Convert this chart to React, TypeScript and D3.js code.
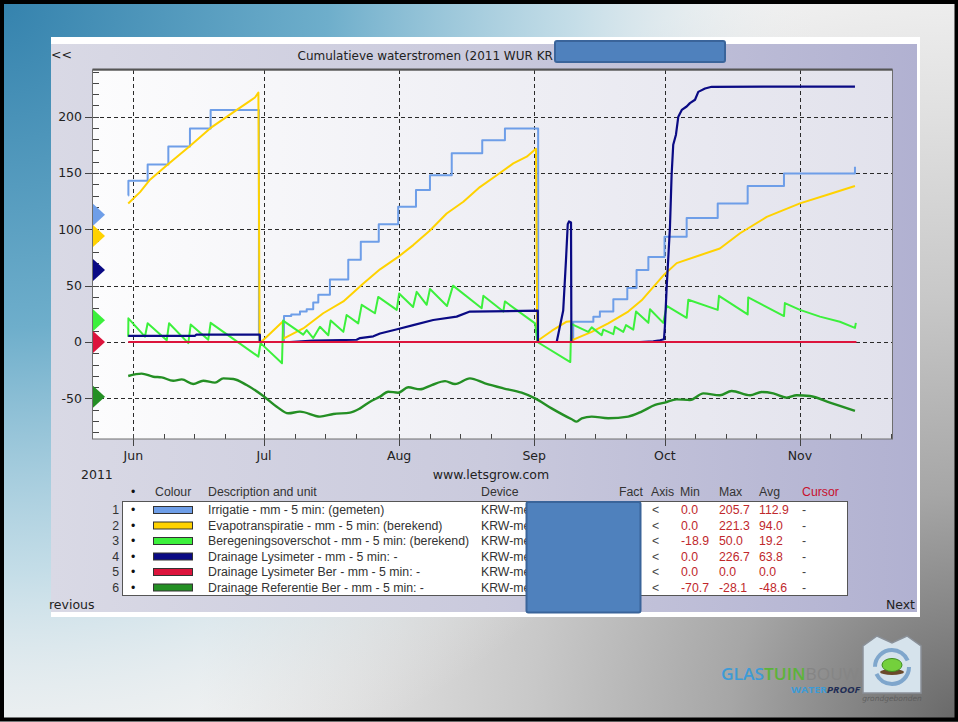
import React, { useEffect, useRef } from 'react';
import * as d3 from 'd3';

type Point = [string, number];

// cumulative flows in mm, ["MM-DD HH", value] (2011)
const irrigatie: Point[] = [
  ['05-30 20', 130], ['05-30 21', 143], ['06-04 07', 157.5], ['06-09 01', 173.5],
  ['06-14 00', 189.5], ['06-18 18', 206], ['06-29 20', 0], ['07-05 14', 23],
  ['07-07 06', 24.5], ['07-09 06', 27], ['07-10 19', 29], ['07-12 07', 35],
  ['07-13 11', 42], ['07-16 03', 55.5], ['07-20 08', 73], ['07-23 05', 89],
  ['07-27 08', 104.5], ['07-31 19', 120], ['08-04 21', 135], ['08-08 02', 148],
  ['08-13 02', 167.5], ['08-20 02', 179], ['08-25 07', 189.5], ['09-01 22', 0],
  ['09-09 23', 18], ['09-14 14', 22.5], ['09-16 02', 27], ['09-19 04', 38],
  ['09-22 09', 48], ['09-24 12', 64], ['09-27 05', 75.5], ['09-30 22', 93.5],
  ['10-06 00', 110], ['10-13 03', 123], ['10-20 00', 138.5], ['10-28 08', 149.5],
  ['11-13 15', 155.5],
];

const evapotranspiratie: Point[] = [
  ['05-30 20', 123], ['06-02 13', 133], ['06-04 20', 144], ['06-09 01', 158],
  ['06-14 00', 174], ['06-18 18', 190], ['06-24 18', 206], ['06-27 19', 214],
  ['06-28 22', 217], ['06-29 17', 221.3], ['06-30 00', 0], ['06-30 08', 0],
  ['07-02 10', 7.5], ['07-05 06', 18], ['07-05 11', 3], ['07-10 00', 12],
  ['07-14 14', 25.5], ['07-19 05', 36], ['07-23 19', 52], ['07-27 15', 64.5],
  ['07-31 19', 75.5], ['08-04 06', 86], ['08-08 02', 99], ['08-11 22', 114],
  ['08-15 18', 124.5], ['08-19 13', 137.5], ['08-23 10', 148], ['08-27 05', 158.5],
  ['08-30 07', 164.5], ['09-01 10', 171.5], ['09-01 17', 0], ['09-01 23', 1.5],
  ['09-05 02', 10], ['09-08 11', 18], ['09-09 11', 18.5], ['09-09 14', 1.5],
  ['09-14 05', 9], ['09-18 00', 16.5], ['09-22 14', 27], ['09-25 16', 37],
  ['09-30 21', 60], ['10-03 17', 70], ['10-09 01', 77], ['10-13 15', 83],
  ['10-18 06', 96.5], ['10-24 09', 111], ['11-01 00', 123], ['11-07 03', 130.5],
  ['11-13 15', 138.5],
];

const beregeningsoverschot: Point[] = [
  ['05-30 20', 4.7], ['05-30 21', 21], ['06-03 16', 4.7], ['06-04 07', 16.6],
  ['06-08 16', 1.5], ['06-09 05', 16.6], ['06-13 15', -1], ['06-14 04', 15.5],
  ['06-18 05', 2], ['06-18 18', 17], ['06-29 17', -13], ['06-30 05', -1],
  ['07-05 03', -18.9], ['07-05 09', 19], ['07-10 00', 6.5], ['07-10 19', 10.5],
  ['07-12 07', 3.5], ['07-13 20', 13.5], ['07-15 18', 6], ['07-16 07', 19],
  ['07-19 05', 9], ['07-19 23', 24], ['07-22 15', 16.5], ['07-23 10', 33],
  ['07-26 11', 25.5], ['07-27 05', 40], ['07-31 11', 28.5], ['08-01 00', 43],
  ['08-04 05', 31], ['08-05 01', 44.5], ['08-07 08', 33], ['08-08 02', 47],
  ['08-12 00', 32], ['08-13 09', 50], ['08-19 23', 30], ['08-20 08', 41],
  ['08-24 22', 27], ['08-25 07', 36], ['09-01 05', 16.5], ['09-01 18', 0],
  ['09-09 07', -17.8], ['09-09 12', 16], ['09-13 10', 9], ['09-14 05', 13],
  ['09-16 12', 6], ['09-16 21', 11], ['09-19 04', 7], ['09-19 13', 13.5],
  ['09-21 11', 9], ['09-22 02', 15], ['09-23 18', 11], ['09-24 09', 27],
  ['09-27 05', 17], ['09-27 14', 29], ['09-30 15', 17], ['10-01 10', 32],
  ['10-06 00', 21.5], ['10-06 09', 37.5], ['10-13 03', 28.5], ['10-13 10', 41],
  ['10-20 00', 24.5], ['10-20 03', 39.5], ['10-28 08', 23], ['10-28 13', 34.5],
  ['11-01 00', 28.5], ['11-05 14', 22.5], ['11-10 04', 18], ['11-13 15', 12.5],
  ['11-13 20', 17],
];

const drainageLysimeter: Point[] = [
  ['05-30 20', 5.5], ['06-15 04', 5.5], ['06-15 10', 6.5], ['06-30 01', 6.5],
  ['06-30 02', 0], ['07-06 23', 0], ['07-12 07', 1.2], ['07-22 06', 2],
  ['07-23 01', 3.5], ['07-26 02', 5], ['07-27 15', 7.5], ['07-31 19', 11.5],
  ['08-04 06', 15], ['08-08 20', 19.5], ['08-14 05', 22.5], ['08-17 06', 27],
  ['09-01 20', 27.8], ['09-01 21', 0], ['09-06 04', 0], ['09-07 16', 28],
  ['09-08 07', 72], ['09-08 17', 104.5], ['09-09 00', 107], ['09-09 11', 106],
  ['09-09 13', 0], ['09-25 07', 0], ['09-28 08', 0.6], ['09-29 21', 1.5],
  ['09-30 19', 2.4], ['10-01 00', 13.5], ['10-01 10', 49], ['10-02 04', 102],
  ['10-02 13', 148], ['10-02 22', 175], ['10-03 13', 184], ['10-04 02', 200],
  ['10-04 21', 206], ['10-06 00', 209], ['10-06 18', 212], ['10-07 22', 215],
  ['10-08 16', 222], ['10-10 05', 225], ['10-11 18', 226.5], ['10-27 10', 226.7],
  ['11-13 15', 226.7],
];

const drainageLysimeterBer: Point[] = [['05-30 20', 0], ['11-13 23', 0]];

const drainageReferentie: Point[] = [
  ['05-30 20', -30.2], ['06-02 22', -28.1], ['06-05 14', -30.8], ['06-07 12', -31.4],
  ['06-10 04', -34.4], ['06-12 03', -33.2], ['06-14 18', -37.3], ['06-17 01', -34.4],
  ['06-19 18', -36.1], ['06-21 16', -32.3], ['06-23 23', -32.8], ['06-27 00', -38.2],
  ['06-30 20', -47.9], ['07-03 22', -57.4], ['07-06 14', -63.3], ['07-09 06', -61.8],
  ['07-13 20', -66.2], ['07-16 22', -63.9], ['07-20 18', -62.7], ['07-23 01', -58.9],
  ['07-25 08', -53], ['07-27 15', -48.5], ['07-29 12', -44.1], ['07-31 19', -45],
  ['08-03 03', -40.2], ['08-05 19', -42], ['08-08 12', -38.2], ['08-11 13', -34.7],
  ['08-13 20', -37.3], ['08-17 06', -32.3], ['08-20 17', -36.7], ['08-24 22', -41.1],
  ['08-29 03', -45], ['09-01 05', -50], ['09-05 00', -58.9], ['09-09 15', -68.6],
  ['09-10 18', -70.7], ['09-11 22', -67.7], ['09-14 05', -66.2], ['09-18 00', -67.7],
  ['09-22 14', -66.2], ['09-25 16', -61.8], ['09-28 18', -55.9], ['10-01 00', -53.8],
  ['10-03 17', -50.9], ['10-06 18', -51.5], ['10-09 20', -45.6], ['10-13 15', -47.3],
  ['10-16 08', -43.5], ['10-20 13', -47.3], ['10-23 05', -44.4], ['10-25 21', -45.6],
  ['10-28 23', -49.4], ['10-31 06', -47.3], ['11-03 07', -47.9], ['11-07 21', -53.8],
  ['11-13 15', -61.2],
];

const seriesLabels = [
  'Irrigatie - mm - 5 min: (gemeten)',
  'Evapotranspiratie - mm - 5 min: (berekend)',
  'Beregeningsoverschot - mm - 5 min: (berekend)',
  'Drainage Lysimeter - mm - 5 min: -',
  'Drainage Lysimeter Ber - mm - 5 min: -',
  'Drainage Referentie Ber - mm - 5 min: -',
];
const seriesColours = ['#6e9ee8', '#ffd200', '#3cf03c', '#0a0a84', '#dc143c', '#248f24'];
const minValues = ['0.0', '0.0', '-18.9', '0.0', '0.0', '-70.7'];
const maxValues = ['205.7', '221.3', '50.0', '226.7', '0.0', '-28.1'];
const avgValues = [112.9, 94.0, 19.2, 63.8, 0.0, -48.6];
const yTickValues = [-50, 0, 50, 100, 150, 200];
const monthStarts = ['06-01 00', '07-01 00', '08-01 00', '09-01 00', '10-01 00', '11-01 00'];

const parseTime = d3.utcParse('%Y-%m-%d %H');
const toDate = (s: string) => parseTime('2011-' + s) as Date;

const tahoma = '"DejaVu Sans", Verdana, sans-serif';
const arial = '"Liberation Sans", Arial, sans-serif';

// squeeze a text horizontally so it spans the wanted width
function fitWidth(sel: any, anchorX: number, width: number) {
  const len = (sel.node() as SVGTextElement).getComputedTextLength();
  if (len > 0) {
    sel.attr('transform', `translate(${anchorX},0) scale(${width / len},1) translate(${-anchorX},0)`);
  }
}

function drawSlide(el: SVGSVGElement) {
  const svg = d3.select(el);
  svg.selectAll('*').remove();
  const defs = svg.append('defs');

  const plot = { left: 93, top: 70, right: 892, bottom: 439 };

  const addStops = (grad: any, stops: [number, string, number][]) => {
    stops.forEach(([o, c, a]) => grad.append('stop')
      .attr('offset', o).attr('stop-color', c).attr('stop-opacity', a));
  };

  // slide background
  addStops(defs.append('radialGradient').attr('id', 'slideGrey')
    .attr('gradientUnits', 'userSpaceOnUse').attr('cx', 958).attr('cy', 722).attr('r', 760),
    [[0, '#686868', 1], [0.3, '#a6a6a6', 1], [0.56, '#c8c8c8', 1], [0.8, '#e0e0e0', 1], [1, '#f2f2f2', 1]]);
  addStops(defs.append('radialGradient').attr('id', 'slideBlue')
    .attr('gradientUnits', 'userSpaceOnUse').attr('cx', 0).attr('cy', 0).attr('r', 820),
    [[0, '#3482ad', 1], [0.4, '#6eaecb', 1], [0.7, '#b9d8e5', 0.8], [1, '#f2f2f2', 0]]);
  addStops(defs.append('linearGradient').attr('id', 'panelGrad')
    .attr('x1', 0).attr('x2', 1).attr('y1', 0).attr('y2', 0),
    [[0, '#d9d9e5', 1], [0.5, '#cacadd', 1], [1, '#b1b1d1', 1]]);
  addStops(defs.append('linearGradient').attr('id', 'plotGrad')
    .attr('x1', 0).attr('x2', 1).attr('y1', 0).attr('y2', 0),
    [[0, '#fcfcfd', 1], [1, '#e2e2ec', 1]]);

  svg.append('rect').attr('width', 958).attr('height', 722).attr('fill', 'url(#slideGrey)');
  svg.append('rect').attr('width', 958).attr('height', 722).attr('fill', 'url(#slideBlue)');
  svg.append('rect').attr('x', 2).attr('y', 2).attr('width', 954.5).attr('height', 717.5)
    .attr('fill', 'none').attr('stroke', '#000').attr('stroke-width', 4);

  // chart panel
  svg.append('rect').attr('x', 51).attr('y', 37).attr('width', 869).attr('height', 580).attr('fill', '#fff');
  svg.append('rect').attr('x', 51).attr('y', 44).attr('width', 866).attr('height', 568).attr('fill', 'url(#panelGrad)');
  svg.append('rect').attr('x', plot.left).attr('y', plot.top)
    .attr('width', plot.right - plot.left).attr('height', plot.bottom - plot.top)
    .attr('fill', 'url(#plotGrad)');

  const x = d3.scaleUtc()
    .domain([toDate('05-22 18'), toDate('11-22 03')])
    .range([plot.left, plot.right]);
  const y = d3.scaleLinear()
    .domain([-86.1, 241.4])
    .range([plot.bottom, plot.top]);

  const grid = svg.append('g').attr('stroke', '#2a2a2a').attr('stroke-width', 1)
    .attr('stroke-dasharray', '4,3').attr('shape-rendering', 'crispEdges');
  yTickValues.forEach(v => {
    grid.append('line').attr('x1', plot.left).attr('x2', plot.right)
      .attr('y1', Math.round(y(v)) + 0.5).attr('y2', Math.round(y(v)) + 0.5);
  });
  monthStarts.forEach(m => {
    const px = Math.round(x(toDate(m))) + 0.5;
    grid.append('line').attr('x1', px).attr('x2', px).attr('y1', plot.top).attr('y2', plot.bottom);
  });

  // ticks
  const ticks = svg.append('g').attr('stroke', '#444').attr('stroke-width', 1).attr('shape-rendering', 'crispEdges');
  for (let v = -80; v <= 240; v += 10) {
    const py = Math.round(y(v)) + 0.5;
    ticks.append('line').attr('x1', plot.left).attr('x2', plot.left + 6).attr('y1', py).attr('y2', py);
  }
  yTickValues.forEach(v => {
    const py = Math.round(y(v)) + 0.5;
    ticks.append('line').attr('x1', plot.left - 8).attr('x2', plot.left).attr('y1', py).attr('y2', py);
  });
  const [d0, d1] = x.domain();
  for (let m = 4; m <= 10; m++) {
    [1, 8, 15, 22].forEach(day => {
      const d = new Date(Date.UTC(2011, m, day));
      if (d < d0 || d > d1) return;
      const px = Math.round(x(d)) + 0.5;
      ticks.append('line').attr('x1', px).attr('x2', px).attr('y1', plot.bottom - 5).attr('y2', plot.bottom);
    });
  }
  monthStarts.forEach(m => {
    const px = Math.round(x(toDate(m))) + 0.5;
    ticks.append('line').attr('x1', px).attr('x2', px).attr('y1', plot.bottom).attr('y2', plot.bottom + 7);
  });

  // series
  defs.append('clipPath').attr('id', 'plotClip').append('rect')
    .attr('x', plot.left).attr('y', plot.top)
    .attr('width', plot.right - plot.left).attr('height', plot.bottom - plot.top);

  const series = [irrigatie, evapotranspiratie, beregeningsoverschot, drainageLysimeter, drainageLysimeterBer, drainageReferentie];
  const curves = [d3.curveStepAfter, d3.curveLinear, d3.curveLinear, d3.curveLinear, d3.curveLinear, d3.curveMonotoneX];
  const widths = [2, 2, 2, 2.2, 2, 2.4];
  const lines = svg.append('g').attr('clip-path', 'url(#plotClip)');
  series.forEach((data, i) => {
    const gen = d3.line<Point>()
      .x(d => x(toDate(d[0])))
      .y(d => y(d[1]))
      .curve(curves[i]);
    lines.append('path').datum(data)
      .attr('d', gen)
      .attr('fill', 'none')
      .attr('stroke', seriesColours[i])
      .attr('stroke-width', widths[i])
      .attr('stroke-linejoin', 'round');
  });

  // frame
  svg.append('rect').attr('x', plot.left - 0.5).attr('y', plot.top)
    .attr('width', plot.right - plot.left + 1).attr('height', plot.bottom - plot.top)
    .attr('fill', 'none').attr('stroke', '#6e6e6e').attr('stroke-width', 1);
  svg.append('line').attr('x1', plot.left - 0.5).attr('x2', plot.right + 0.5)
    .attr('y1', plot.top - 0.5).attr('y2', plot.top - 0.5)
    .attr('stroke', '#555').attr('stroke-width', 2);

  // average markers
  avgValues.forEach((v, i) => {
    const py = y(v);
    svg.append('path')
      .attr('d', `M${plot.left},${py - 11}L${plot.left + 12},${py}L${plot.left},${py + 11}Z`)
      .attr('fill', seriesColours[i]);
  });

  // axis labels
  yTickValues.forEach(v => {
    svg.append('text').attr('x', 82).attr('y', y(v) + 4.5)
      .attr('text-anchor', 'end').style('font-family', tahoma).style('font-size', '12.5px')
      .attr('fill', '#222').text(v);
  });
  const monthFormat = d3.utcFormat('%b');
  monthStarts.forEach(m => {
    svg.append('text').attr('x', x(toDate(m))).attr('y', 460)
      .attr('text-anchor', 'middle').style('font-family', tahoma).style('font-size', '12.5px')
      .attr('fill', '#222').text(monthFormat(toDate(m)));
  });

  const label = (tx: number, ty: number, s: string, anchor = 'start', size = '12.5px', fill = '#222') =>
    svg.append('text').attr('x', tx).attr('y', ty).attr('text-anchor', anchor)
      .style('font-family', tahoma).style('font-size', size).attr('fill', fill).text(s);

  label(51, 59, '<<');
  label(297.5, 59.5, 'Cumulatieve waterstromen (2011 WUR KR', 'start', '12px');
  label(81, 478.5, '2011');
  label(491, 478.5, 'www.letsgrow.com', 'middle');
  label(49, 608.5, 'revious');
  label(915, 608.5, 'Next', 'end');

  // legend table
  const cell = (tx: number, ty: number, s: string, fill = '#333', anchor = 'start') =>
    svg.append('text').attr('x', tx).attr('y', ty).attr('text-anchor', anchor)
      .style('font-family', arial).style('font-size', '12.3px').attr('fill', fill).text(s);

  const headY = 496;
  cell(131, headY, '•', '#111');
  cell(155, headY, 'Colour');
  cell(208, headY, 'Description and unit');
  cell(481, headY, 'Device');
  cell(619, headY, 'Fact');
  cell(651, headY, 'Axis');
  cell(680, headY, 'Min');
  cell(719, headY, 'Max');
  cell(759, headY, 'Avg');
  cell(802, headY, 'Cursor', '#c8102e');

  svg.append('rect').attr('x', 122.5).attr('y', 501.5).attr('width', 725).attr('height', 94)
    .attr('fill', '#fff').attr('stroke', '#555').attr('stroke-width', 1);

  const valueRed = '#c0282c';
  seriesLabels.forEach((name, i) => {
    const cy = 510 + i * 15.5;
    const by = cy + 4.3;
    cell(119, by, String(i + 1), '#333', 'end');
    cell(131, by, '•', '#111');
    svg.append('rect').attr('x', 153.5).attr('y', cy - 3.5).attr('width', 39).attr('height', 7)
      .attr('fill', seriesColours[i]).attr('stroke', '#333').attr('stroke-width', 1);
    cell(208, by, name);
    cell(481, by, 'KRW-meetbedrijf');
    cell(652, by, '<', '#444');
    cell(681, by, minValues[i], valueRed);
    cell(719, by, maxValues[i], valueRed);
    cell(759, by, avgValues[i].toFixed(1), valueRed);
    cell(802, by, '-', '#444');
  });

  // logo
  const logo = svg.append('g');
  const word = logo.append('text').attr('x', 721).attr('y', 680.5)
    .style('font-family', '"Open Sans", sans-serif').style('font-size', '15.5px');
  word.append('tspan').attr('fill', '#3d9bd6').attr('font-weight', 600).text('GLAS');
  word.append('tspan').attr('fill', '#5cb33a').attr('font-weight', 600).text('TUIN');
  word.append('tspan').attr('fill', '#858585').attr('font-weight', 400).text('BOUW');
  fitWidth(word, 721, 138);
  const proof = logo.append('text').attr('x', 860).attr('y', 693.5).attr('text-anchor', 'end')
    .style('font-family', '"Open Sans", sans-serif').style('font-size', '9px').attr('font-weight', 700);
  proof.append('tspan').attr('fill', '#3d9bd6').text('WATER');
  proof.append('tspan').attr('fill', '#1f2d55').attr('font-style', 'italic').text('PROOF');
  fitWidth(proof, 860, 69);

  logo.append('path')
    .attr('d', 'M863,693L863,646L877,636L892,643L907,636L921,646L921,693Z')
    .attr('fill', '#d6e3ec').attr('stroke', '#8a9098').attr('stroke-width', 1.5);
  logo.append('circle').attr('cx', 892).attr('cy', 667).attr('r', 17)
    .attr('fill', 'none').attr('stroke', '#7fa6cc').attr('stroke-width', 4)
    .attr('stroke-dasharray', '46,7.4');
  logo.append('ellipse').attr('cx', 892).attr('cy', 672).attr('rx', 12).attr('ry', 3).attr('fill', '#6b4a2b');
  logo.append('ellipse').attr('cx', 892).attr('cy', 665).attr('rx', 10).attr('ry', 6.5)
    .attr('fill', '#74d03c').attr('stroke', '#3f8d20').attr('stroke-width', 1);
  logo.append('text').attr('x', 892).attr('y', 701).attr('text-anchor', 'middle')
    .style('font-family', tahoma).style('font-size', '7.5px').attr('font-style', 'italic')
    .attr('fill', '#5e5e5e').text('grondgebonden');

  // redaction boxes
  const redact = (rx: number, ry: number, w: number, h: number) =>
    svg.append('rect').attr('x', rx).attr('y', ry).attr('width', w).attr('height', h).attr('rx', 2)
      .attr('fill', '#4f81bd').attr('stroke', '#3a649a').attr('stroke-width', 2);
  redact(555, 41, 170, 21);
  redact(526.5, 502, 114, 110.5);
}

export default function App() {
  const ref = useRef<SVGSVGElement>(null);

  useEffect(() => {
    if (ref.current) drawSlide(ref.current);
  }, []);

  return (
    <div style={{ position: 'absolute', left: 0, top: 0 }}>
      <svg ref={ref} width={958} height={722} />
    </div>
  );
}
